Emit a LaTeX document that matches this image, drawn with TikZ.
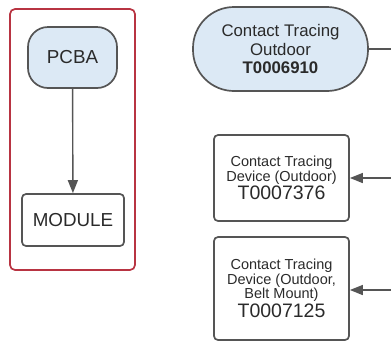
\documentclass[tikz,border=0pt]{standalone}
\usepackage{fontspec}
\setmainfont{Liberation Sans}
\usetikzlibrary{arrows.meta}
\definecolor{strk}{HTML}{555555}
\definecolor{lblue}{HTML}{DCE9F5}
\definecolor{frred}{HTML}{B83442}
\definecolor{txt}{HTML}{2A2A2A}
\tikzset{
  basebox/.style={draw=strk,line width=1.7pt,text=txt,align=center,inner sep=0pt,minimum width=#1},
  roundbox/.style={basebox=#1,rounded corners=4pt},
  conn/.style={draw=strk,line width=1.4pt},
  arr/.style={conn,-{Triangle[length=13pt,width=10pt]}},
}
\begin{document}
\begin{tikzpicture}[x=1pt,y=1pt]
\useasboundingbox (0,0) rectangle (391,-341);
\node[draw=frred,line width=1.7pt,rounded corners=5pt,minimum width=125pt,minimum height=261pt,inner sep=0pt] (frame) at (72.5,-139.5) {};
\node[basebox=89pt,fill=lblue,rounded corners=20pt,minimum height=61pt,font=\fontsize{18.8}{20}\selectfont] (pcba) at (72.5,-57.5) {PCBA};
\node[roundbox=102pt,minimum height=52pt,font=\fontsize{18.8}{20}\selectfont] (module) at (73,-220) {MODULE};
\draw[arr] (pcba) -- (module);
\node[basebox=175pt,fill=lblue,rounded corners=41pt,minimum height=84pt,font=\fontsize{16.8}{18.5}\selectfont] (cto) at (280.5,-49) {Contact Tracing\\Outdoor\\\textbf{T0006910}};
\node[roundbox=135pt,minimum height=86pt] (ctd1) at (281.5,-178) {\fontsize{14.5}{16.5}\selectfont Contact Tracing\\\fontsize{14.5}{16.5}\selectfont Device (Outdoor)\\[1pt]\fontsize{19.5}{19.5}\selectfont T0007376};
\node[roundbox=135pt,minimum height=103pt] (ctd2) at (281.5,-288.5) {\fontsize{14.5}{16.5}\selectfont Contact Tracing\\\fontsize{14.5}{16.5}\selectfont Device (Outdoor,\\\fontsize{14.5}{16.5}\selectfont Belt Mount)\\[1pt]\fontsize{19.5}{19.5}\selectfont T0007125};
\coordinate (e1) at (391,-49);
\coordinate (e2) at (391,-178);
\coordinate (e3) at (391,-290);
\draw[conn] (cto.east) -- (e1);
\draw[arr] (e2) -- (ctd1.east |- e2);
\draw[arr] (e3) -- (ctd2.east |- e3);
\end{tikzpicture}
\end{document}
